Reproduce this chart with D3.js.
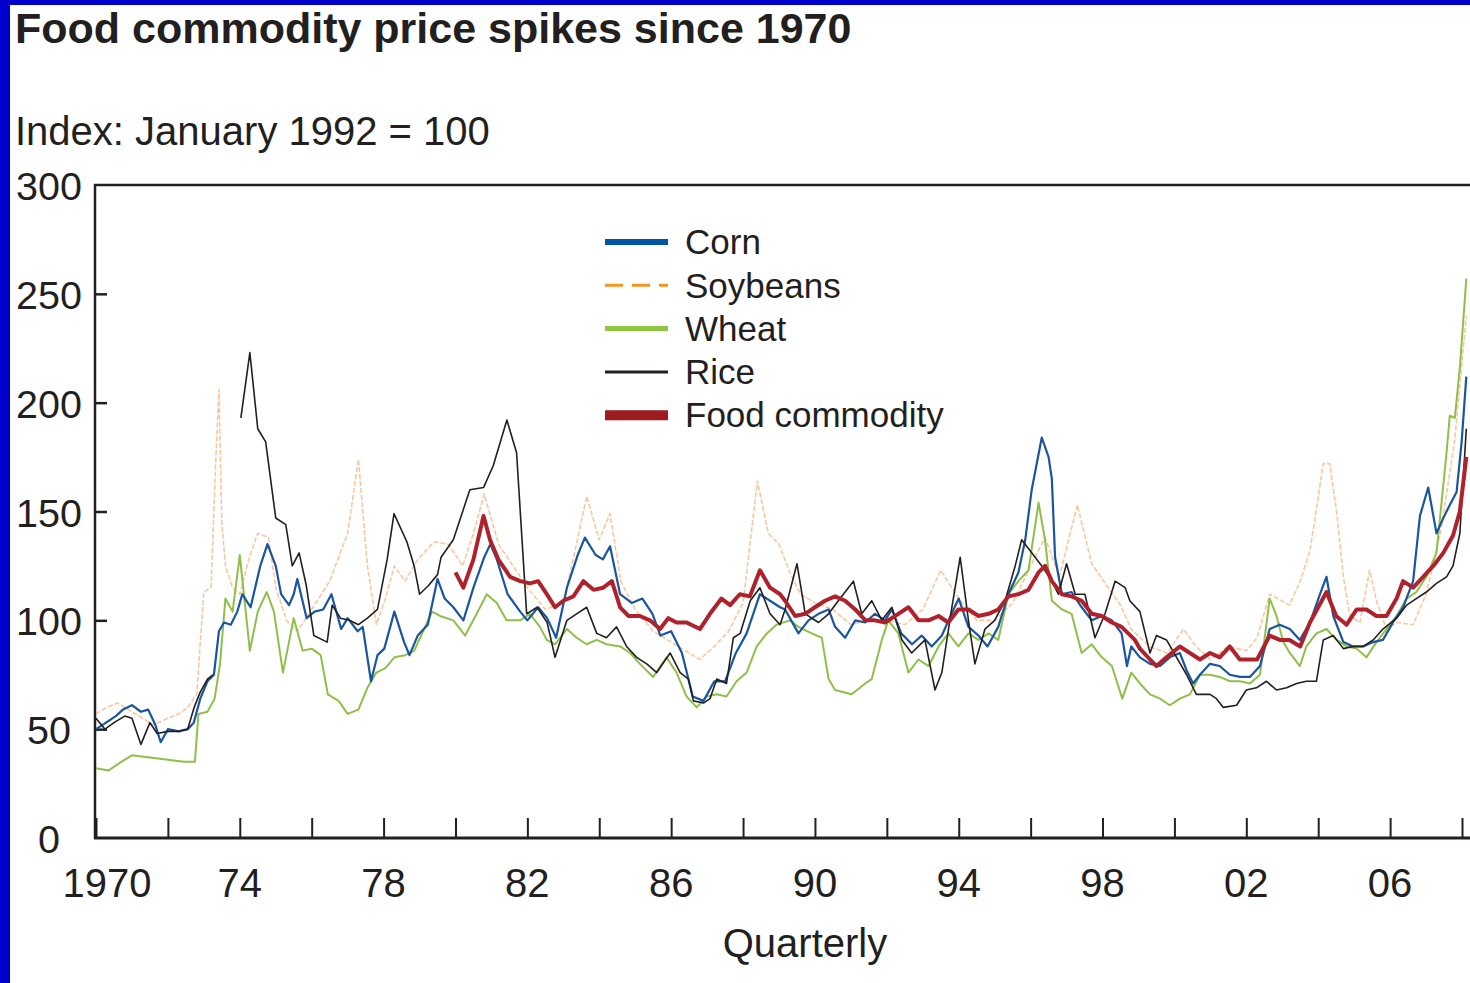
<!DOCTYPE html>
<html>
<head>
<meta charset="utf-8">
<script src="https://cdn.jsdelivr.net/npm/d3@7"></script>
<style>
  body { margin: 0; background: #fff; }
  text { font-family: "Liberation Sans", Arial, Helvetica, sans-serif; fill: #231f20; }
</style>
</head>
<body>
<div class="chart"></div>
<script>
// quarterly index values (Jan 1992 = 100) as [year, value]
var corn = [
  [1970.0,50],[1970.28,53],[1970.55,56],[1970.75,59],[1971.0,61],[1971.25,58],[1971.45,59],[1971.65,52],[1971.8,44],[1972.0,50],
  [1972.3,49],[1972.55,50],[1972.72,53],[1972.9,64],[1973.1,72],[1973.28,75],[1973.42,95],[1973.56,99],[1973.75,98],[1973.93,104],
  [1974.07,112],[1974.3,106],[1974.57,125],[1974.77,135],[1975.0,125],[1975.15,112],[1975.37,107],[1975.5,112],[1975.6,119],[1975.86,101],
  [1976.08,104],[1976.32,105],[1976.55,112],[1976.82,96],[1977.0,101],[1977.28,95],[1977.42,97],[1977.65,72],[1977.83,84],[1978.02,87],
  [1978.3,104],[1978.57,90],[1978.72,84],[1978.95,93],[1979.23,98],[1979.5,119],[1979.7,110],[1979.94,106],[1980.22,100],[1980.5,115],
  [1980.8,129],[1980.97,135],[1981.15,128],[1981.45,112],[1981.8,104],[1982.0,100],[1982.3,106],[1982.55,101],[1982.8,92],[1983.1,115],
  [1983.4,130],[1983.6,138],[1983.9,130],[1984.1,128],[1984.3,134],[1984.58,112],[1984.9,108],[1985.2,110],[1985.48,103],[1985.7,93],
  [1986.0,95],[1986.3,85],[1986.6,65],[1986.9,63],[1987.2,72],[1987.5,72],[1987.8,85],[1988.1,94],[1988.47,112],[1988.75,109],
  [1989.03,106],[1989.17,105],[1989.54,94],[1989.82,100],[1990.1,103],[1990.38,105],[1990.56,97],[1990.84,92],[1991.12,100],[1991.4,99],
  [1991.67,103],[1991.95,100],[1992.14,105],[1992.4,94],[1992.7,89],[1992.97,93],[1993.25,88],[1993.53,93],[1993.8,103],[1994.0,110],
  [1994.27,97],[1994.55,93],[1994.8,88],[1995.1,97],[1995.38,112],[1995.66,122],[1995.85,137],[1996.03,160],[1996.31,184],[1996.5,175],
  [1996.59,165],[1996.68,129],[1996.87,112],[1997.14,113],[1997.42,106],[1997.7,100],[1997.98,102],[1998.26,100],[1998.53,94],[1998.68,79],
  [1998.8,88],[1999.04,83],[1999.32,80],[1999.6,79],[1999.87,83],[2000.15,85],[2000.34,77],[2000.52,71],[2000.71,75],[2000.99,80],
  [2001.26,79],[2001.54,75],[2001.82,74],[2002.1,74],[2002.38,79],[2002.65,96],[2002.93,98],[2003.21,96],[2003.49,91],[2003.77,99],
  [2004.05,112],[2004.23,120],[2004.42,102],[2004.7,90],[2004.97,88],[2005.25,88],[2005.53,90],[2005.8,91],[2006.08,99],[2006.36,106],
  [2006.64,118],[2006.83,148],[2007.06,161],[2007.29,140],[2007.48,147],[2007.66,153],[2007.85,159],[2007.99,182],[2008.12,212]
];

var soybeans = [
  [1970.0,57],[1970.3,60],[1970.6,62],[1971.0,58],[1971.3,55],[1971.6,52],[1972.0,55],[1972.3,57],[1972.55,60],[1972.8,66],
  [1973.0,113],[1973.2,115],[1973.33,173],[1973.42,206],[1973.5,145],[1973.6,125],[1973.8,115],[1974.0,112],[1974.25,128],[1974.5,140],
  [1974.8,138],[1975.0,115],[1975.3,100],[1975.6,95],[1976.0,105],[1976.5,118],[1977.0,140],[1977.3,174],[1977.55,125],[1977.8,98],
  [1978.05,110],[1978.3,125],[1978.6,118],[1978.95,128],[1979.4,136],[1979.8,135],[1980.2,125],[1980.5,140],[1980.8,158],[1981.2,135],
  [1981.6,125],[1982.0,115],[1982.5,105],[1983.0,108],[1983.3,130],[1983.65,157],[1984.0,137],[1984.3,149],[1984.6,118],[1985.0,105],
  [1985.5,95],[1986.0,90],[1986.5,85],[1986.8,82],[1987.2,88],[1987.6,95],[1988.0,108],[1988.4,164],[1988.7,140],[1989.0,135],
  [1989.3,122],[1989.6,112],[1990.0,108],[1990.5,105],[1991.0,98],[1991.5,100],[1992.0,100],[1992.5,98],[1993.0,105],[1993.5,123],
  [1994.0,110],[1994.5,100],[1995.0,100],[1995.5,108],[1996.0,125],[1996.4,138],[1996.8,120],[1997.3,153],[1997.7,126],[1998.2,114],
  [1998.5,107],[1998.8,96],[1999.3,88],[1999.8,85],[2000.25,96],[2000.6,88],[2001.0,82],[2001.5,88],[2002.0,86],[2002.3,92],
  [2002.65,112],[2003.2,107],[2003.5,118],[2003.77,132],[2003.95,151],[2004.14,172],[2004.32,172],[2004.51,150],[2004.7,120],[2004.88,102],
  [2005.16,99],[2005.43,123],[2005.62,109],[2005.9,96],[2006.2,99],[2006.64,98],[2007.0,112],[2007.4,140],[2007.8,183],[2008.12,240]
];

var wheat = [
  [1970.0,32],[1970.35,31],[1970.7,35],[1971.0,38],[1971.5,37],[1972.0,36],[1972.45,35],[1972.75,35],[1972.85,57],[1973.1,58],
  [1973.3,64],[1973.45,80],[1973.6,110],[1973.8,104],[1974.0,130],[1974.28,86],[1974.5,104],[1974.75,113],[1974.95,104],[1975.2,76],
  [1975.5,101],[1975.75,86],[1976.0,87],[1976.25,84],[1976.45,66],[1976.75,63],[1977.0,57],[1977.3,59],[1977.55,69],[1977.8,76],
  [1978.05,78],[1978.3,83],[1978.6,84],[1978.85,86],[1979.1,95],[1979.35,104],[1979.57,102],[1979.94,100],[1980.27,93],[1980.59,103],
  [1980.87,112],[1981.15,108],[1981.42,100],[1981.8,100],[1982.07,103],[1982.35,97],[1982.54,91],[1982.77,89],[1983.1,96],[1983.37,92],
  [1983.65,89],[1983.93,91],[1984.2,89],[1984.58,88],[1984.86,85],[1985.13,80],[1985.5,74],[1985.87,83],[1986.15,76],[1986.43,65],
  [1986.71,60],[1986.99,65],[1987.27,66],[1987.54,65],[1987.82,72],[1988.1,76],[1988.38,88],[1988.66,94],[1988.93,98],[1989.3,100],
  [1989.54,97],[1989.91,94],[1990.19,92],[1990.38,73],[1990.56,68],[1991.02,66],[1991.4,71],[1991.58,73],[1991.86,91],[1992.04,100],
  [1992.32,94],[1992.6,76],[1992.88,82],[1993.16,79],[1993.44,88],[1993.71,94],[1993.99,88],[1994.27,94],[1994.55,91],[1994.83,94],
  [1995.1,91],[1995.38,112],[1995.66,118],[1995.94,123],[1996.22,154],[1996.4,137],[1996.59,109],[1996.87,105],[1997.14,103],[1997.42,85],
  [1997.7,89],[1997.98,83],[1998.26,79],[1998.55,64],[1998.8,76],[1999.04,71],[1999.32,66],[1999.6,64],[1999.87,61],[2000.15,64],
  [2000.43,66],[2000.71,75],[2000.99,75],[2001.26,74],[2001.54,72],[2001.82,72],[2002.1,71],[2002.38,75],[2002.65,110],[2002.84,102],
  [2003.03,90],[2003.21,85],[2003.49,79],[2003.67,88],[2003.95,94],[2004.23,96],[2004.51,91],[2004.79,88],[2005.07,87],[2005.34,83],
  [2005.62,90],[2005.9,96],[2006.18,102],[2006.46,110],[2006.73,113],[2007.01,120],[2007.29,131],[2007.57,177],[2007.66,194],[2007.8,193],
  [2007.94,216],[2008.12,257]
];

// rice has no readings for most of 1973 (null = gap in the line)
var rice = [
  [1970.0,55],[1970.25,50],[1970.5,53],[1970.8,56],[1971.0,55],[1971.25,43],[1971.5,53],[1971.7,48],[1972.0,49],[1972.3,49],
  [1972.55,50],[1972.73,60],[1972.9,67],[1973.1,73],[1973.25,75],
  null,
  [1974.03,193],[1974.28,223],[1974.5,188],[1974.72,182],[1975.0,147],[1975.28,144],[1975.46,125],[1975.65,131],[1975.85,116],[1976.06,93],
  [1976.43,90],[1976.57,107],[1976.8,101],[1977.05,100],[1977.3,98],[1977.55,101],[1977.83,105],[1978.1,128],[1978.29,149],[1978.65,136],
  [1978.85,125],[1979.0,112],[1979.25,116],[1979.5,121],[1979.6,129],[1979.94,137],[1980.4,160],[1980.78,161],[1981.05,171],[1981.43,192],
  [1981.7,177],[1981.98,103],[1982.27,106],[1982.55,99],[1982.77,83],[1983.1,100],[1983.37,103],[1983.65,106],[1983.93,94],[1984.2,92],
  [1984.48,97],[1984.76,88],[1985.04,83],[1985.32,80],[1985.6,76],[1985.97,85],[1986.25,76],[1986.48,73],[1986.62,63],[1986.9,62],
  [1987.08,64],[1987.27,73],[1987.54,71],[1987.73,92],[1987.92,94],[1988.2,109],[1988.47,115],[1988.75,103],[1989.03,98],[1989.17,105],
  [1989.5,126],[1989.73,103],[1990.1,99],[1990.38,103],[1990.65,109],[1991.07,118],[1991.3,103],[1991.58,109],[1991.86,100],[1992.14,106],
  [1992.42,91],[1992.69,85],[1993.06,91],[1993.34,68],[1993.53,76],[1993.8,105],[1994.04,129],[1994.27,100],[1994.45,80],[1994.73,96],
  [1995.0,100],[1995.29,109],[1995.57,125],[1995.75,137],[1996.03,131],[1996.31,125],[1996.59,118],[1996.77,112],[1997.0,126],[1997.24,112],
  [1997.51,112],[1997.79,92],[1998.07,103],[1998.35,118],[1998.63,115],[1998.76,109],[1999.04,104],[1999.32,85],[1999.5,93],[1999.78,91],
  [2000.06,83],[2000.34,75],[2000.61,66],[2000.99,66],[2001.17,64],[2001.36,60],[2001.73,61],[2002.0,68],[2002.28,69],[2002.56,72],
  [2002.84,68],[2003.12,69],[2003.4,71],[2003.67,72],[2003.95,72],[2004.14,91],[2004.42,93],[2004.7,87],[2004.97,88],[2005.25,88],
  [2005.53,91],[2005.8,96],[2006.18,101],[2006.46,107],[2006.73,110],[2007.01,113],[2007.29,117],[2007.57,120],[2007.75,125],[2007.94,140],
  [2008.12,188]
];

// food commodity index only starts in 1980
var food = [
  [1980.0,122],[1980.22,115],[1980.5,128],[1980.78,148],[1980.96,137],[1981.19,128],[1981.52,120],[1981.8,118],[1982.07,117],[1982.3,118],
  [1982.54,112],[1982.77,106],[1983.0,109],[1983.28,111],[1983.56,118],[1983.84,114],[1984.11,115],[1984.35,118],[1984.58,106],[1984.81,102],
  [1985.13,102],[1985.41,100],[1985.69,96],[1985.92,101],[1986.15,99],[1986.43,99],[1986.8,96],[1987.08,103],[1987.4,110],[1987.64,107],
  [1987.91,112],[1988.19,111],[1988.47,123],[1988.75,115],[1989.03,112],[1989.17,109],[1989.45,102],[1989.73,103],[1990.0,106],[1990.28,109],
  [1990.56,111],[1990.84,109],[1991.12,105],[1991.4,100],[1991.67,100],[1991.95,99],[1992.32,103],[1992.6,106],[1992.88,100],[1993.16,100],
  [1993.44,102],[1993.71,99],[1993.99,105],[1994.27,105],[1994.55,102],[1994.83,103],[1995.1,105],[1995.38,111],[1995.66,112],[1995.94,114],
  [1996.22,122],[1996.4,125],[1996.59,118],[1996.87,112],[1997.14,111],[1997.42,109],[1997.7,103],[1997.98,102],[1998.26,99],[1998.53,97],
  [1998.9,91],[1999.04,87],[1999.32,82],[1999.5,79],[1999.78,83],[2000.15,88],[2000.43,85],[2000.71,82],[2000.99,85],[2001.26,83],
  [2001.54,88],[2001.82,82],[2002.1,82],[2002.3,82],[2002.65,93],[2002.93,91],[2003.2,91],[2003.5,88],[2003.77,99],[2004.23,113],
  [2004.5,102],[2004.79,98],[2005.07,105],[2005.34,105],[2005.62,102],[2005.9,102],[2006.18,110],[2006.36,118],[2006.64,115],[2006.92,120],
  [2007.2,125],[2007.48,131],[2007.75,139],[2007.94,150],[2008.12,175]
];

var seriesNames = ["Corn", "Soybeans", "Wheat", "Rice", "Food commodity"];
var xTickYears = [1970,1972,1974,1976,1978,1980,1982,1984,1986,1988,1990,1992,1994,1996,1998,2000,2002,2004,2006,2008];
var xLabelYears = [1970,1974,1978,1982,1986,1990,1994,1998,2002,2006];
var xLabels = ["1970","74","78","82","86","90","94","98","02","06"];
var yTicks = [0,50,100,150,200,250,300];

var svgWidth = 1470;
var svgHeight = 983;

// plot frame, in page pixels
var frame = { left: 95, top: 185, right: 1470, bottom: 838 };

var svg = d3.select(".chart")
  .append("svg")
  .attr("width", svgWidth)
  .attr("height", svgHeight)
  .style("display", "block");

svg.append("rect").attr("width", svgWidth).attr("height", svgHeight).attr("fill", "#fff");

// blue border strips on the left and top edges
svg.append("rect").attr("x", 0).attr("y", 0).attr("width", 10).attr("height", svgHeight).attr("fill", "#0000cc");
svg.append("rect").attr("x", 0).attr("y", 0).attr("width", svgWidth).attr("height", 5).attr("fill", "#0000cc");

var x = d3.scaleLinear().domain([1970, 2008]).range([96, 1462]);
var y = d3.scaleLinear().domain([0, 300]).range([frame.bottom, frame.top]);

// titles
svg.append("text")
  .attr("x", 15).attr("y", 43)
  .style("font-size", "43px").style("font-weight", "bold")
  .text("Food commodity price spikes since 1970");

svg.append("text")
  .attr("x", 15).attr("y", 145)
  .style("font-size", "40px")
  .text("Index: January 1992 = 100");

// x ticks pointing up from the baseline
var xAxis = d3.axisBottom(x)
  .tickValues(xTickYears)
  .tickSizeInner(-20)
  .tickSizeOuter(0)
  .tickFormat("");

var xAxisG = svg.append("g")
  .attr("transform", `translate(0, ${frame.bottom})`)
  .call(xAxis);
xAxisG.select(".domain").remove();
xAxisG.selectAll(".tick line").attr("stroke", "#231f20").attr("stroke-width", 2);

// y ticks pointing right from the left axis
var yAxis = d3.axisRight(y)
  .tickValues(yTicks.filter(function(d) { return d > 0 && d < 300; }))
  .tickSizeInner(12)
  .tickSizeOuter(0)
  .tickFormat("");

var yAxisG = svg.append("g")
  .attr("transform", `translate(${frame.left}, 0)`)
  .call(yAxis);
yAxisG.select(".domain").remove();
yAxisG.selectAll(".tick line").attr("stroke", "#231f20").attr("stroke-width", 2.5);

// frame lines: top, left, bottom
svg.append("line")
  .attr("x1", frame.left - 1).attr("x2", frame.right)
  .attr("y1", frame.top).attr("y2", frame.top)
  .attr("stroke", "#231f20").attr("stroke-width", 2.5);
svg.append("line")
  .attr("x1", frame.left).attr("x2", frame.left)
  .attr("y1", frame.top - 1).attr("y2", frame.bottom + 1)
  .attr("stroke", "#231f20").attr("stroke-width", 2.5);
svg.append("line")
  .attr("x1", frame.left - 1).attr("x2", frame.right)
  .attr("y1", frame.bottom).attr("y2", frame.bottom)
  .attr("stroke", "#231f20").attr("stroke-width", 3);

// tick labels
svg.selectAll(".ylab")
  .data(yTicks)
  .enter()
  .append("text")
  .attr("class", "ylab")
  .attr("x", 49)
  .attr("y", function(d) { return y(d) + 15; })
  .attr("text-anchor", "middle")
  .style("font-size", "39.5px")
  .text(function(d) { return d; });

svg.selectAll(".xlab")
  .data(xLabelYears)
  .enter()
  .append("text")
  .attr("class", "xlab")
  .attr("x", function(d, i) { return x(d) + (i === 0 ? 11 : 0); })
  .attr("y", 897)
  .attr("text-anchor", "middle")
  .style("font-size", "40px")
  .text(function(d, i) { return xLabels[i]; });

svg.append("text")
  .attr("x", 805).attr("y", 957)
  .attr("text-anchor", "middle")
  .style("font-size", "40px")
  .text("Quarterly");

// series lines
var line = d3.line()
  .defined(function(d) { return d !== null; })
  .x(function(d) { return x(d[0]); })
  .y(function(d) { return y(d[1]); })
  .curve(d3.curveLinear);

var styles = {
  "Corn":           { data: corn,     color: "#1a55a0", width: 2.2, dash: null,  opacity: 1,   legendW: 6,  legendColor: "#0055a5" },
  "Soybeans":       { data: soybeans, color: "#f4a15c", width: 1.6, dash: "5,2", opacity: 0.6, legendW: 3,  legendColor: "#f7941d" },
  "Wheat":          { data: wheat,    color: "#8fbf4a", width: 2,   dash: null,  opacity: 1,   legendW: 5,  legendColor: "#8dc63f" },
  "Rice":           { data: rice,     color: "#231f20", width: 1.6, dash: null,  opacity: 1,   legendW: 3,  legendColor: "#231f20" },
  "Food commodity": { data: food,     color: "#b0222b", width: 4,   dash: null,  opacity: 1,   legendW: 10, legendColor: "#9e1b20" }
};

var drawOrder = ["Soybeans", "Wheat", "Corn", "Rice", "Food commodity"];

var plot = svg.append("g");

drawOrder.forEach(function(name) {
  var s = styles[name];
  plot.append("path")
    .datum(s.data)
    .attr("d", line)
    .attr("fill", "none")
    .attr("stroke", s.color)
    .attr("stroke-width", s.width)
    .attr("stroke-opacity", s.opacity)
    .attr("stroke-dasharray", s.dash)
    .attr("stroke-linejoin", "round");
});

// legend
var legend = svg.append("g");
var legendRow = 43.3;

seriesNames.forEach(function(name, i) {
  var s = styles[name];
  var ly = 242 + i * legendRow;
  legend.append("line")
    .attr("x1", 605).attr("x2", 668)
    .attr("y1", ly).attr("y2", ly)
    .attr("stroke", s.legendColor)
    .attr("stroke-width", s.legendW)
    .attr("stroke-dasharray", name === "Soybeans" ? "18,9" : null);
  legend.append("text")
    .attr("x", 685).attr("y", ly)
    .attr("dy", "0.35em")
    .style("font-size", "35px")
    .text(name);
});
</script>
</body>
</html>
